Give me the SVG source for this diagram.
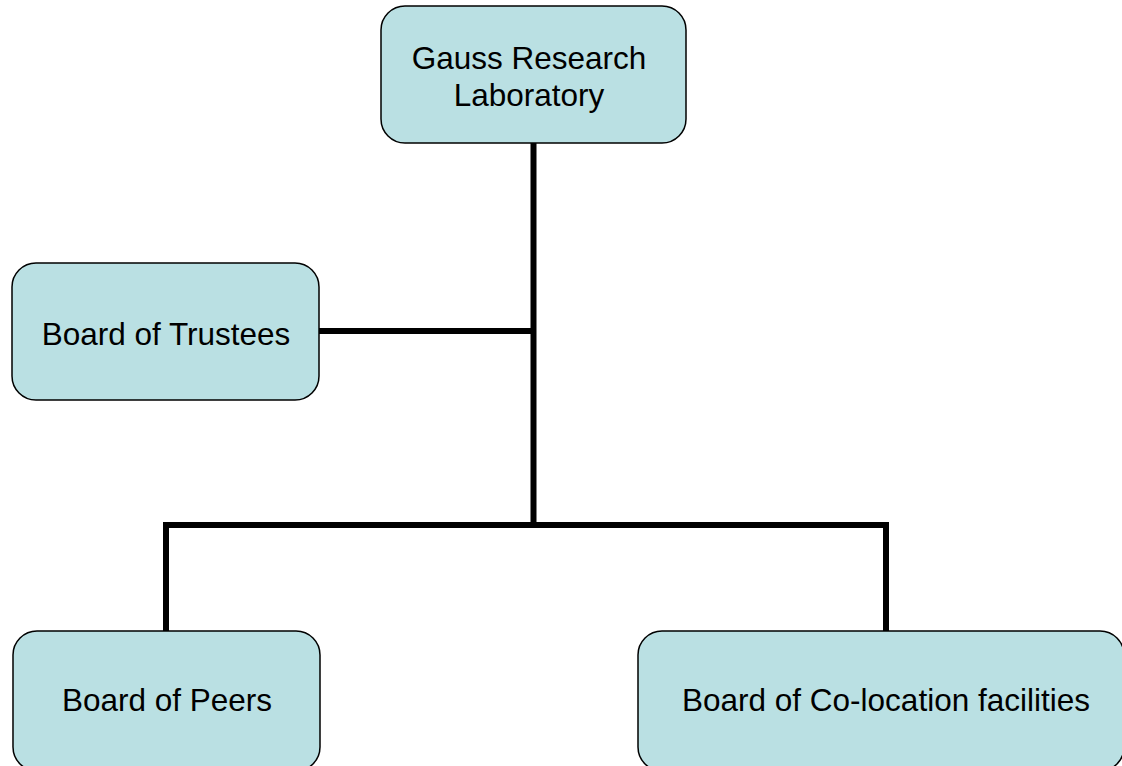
<svg xmlns="http://www.w3.org/2000/svg" width="1122" height="766" viewBox="0 0 1122 766">
<style>
.box{fill:#bae0e3;stroke:#000;stroke-width:1.5}
.lbl{font-family:"Liberation Sans",Arial,sans-serif;font-size:31.5px;fill:#000;text-anchor:middle}
.con{fill:none;stroke:#000;stroke-width:6;stroke-linecap:square}
</style>
<rect width="1122" height="766" fill="#fff"/>
<g id="connectors">
<path class="con" d="M533.5,143 V525"/>
<path class="con" d="M319,331 H533"/>
<path class="con" d="M166,631 V525 H886 V631"/>
</g>
<g id="gauss">
<rect class="box" x="381" y="6" width="305" height="137" rx="24"/>
<text class="lbl" x="529" y="69">Gauss Research</text>
<text class="lbl" x="529" y="106">Laboratory</text>
</g>
<g id="trustees">
<rect class="box" x="12" y="263" width="307" height="137" rx="24"/>
<text class="lbl" x="166" y="345">Board of Trustees</text>
</g>
<g id="peers">
<rect class="box" x="13" y="631" width="307" height="140" rx="24"/>
<text class="lbl" x="167" y="711">Board of Peers</text>
</g>
<g id="colocation">
<rect class="box" x="638" y="631" width="486" height="140" rx="24"/>
<text class="lbl" x="886" y="711">Board of Co-location facilities</text>
</g>
</svg>
